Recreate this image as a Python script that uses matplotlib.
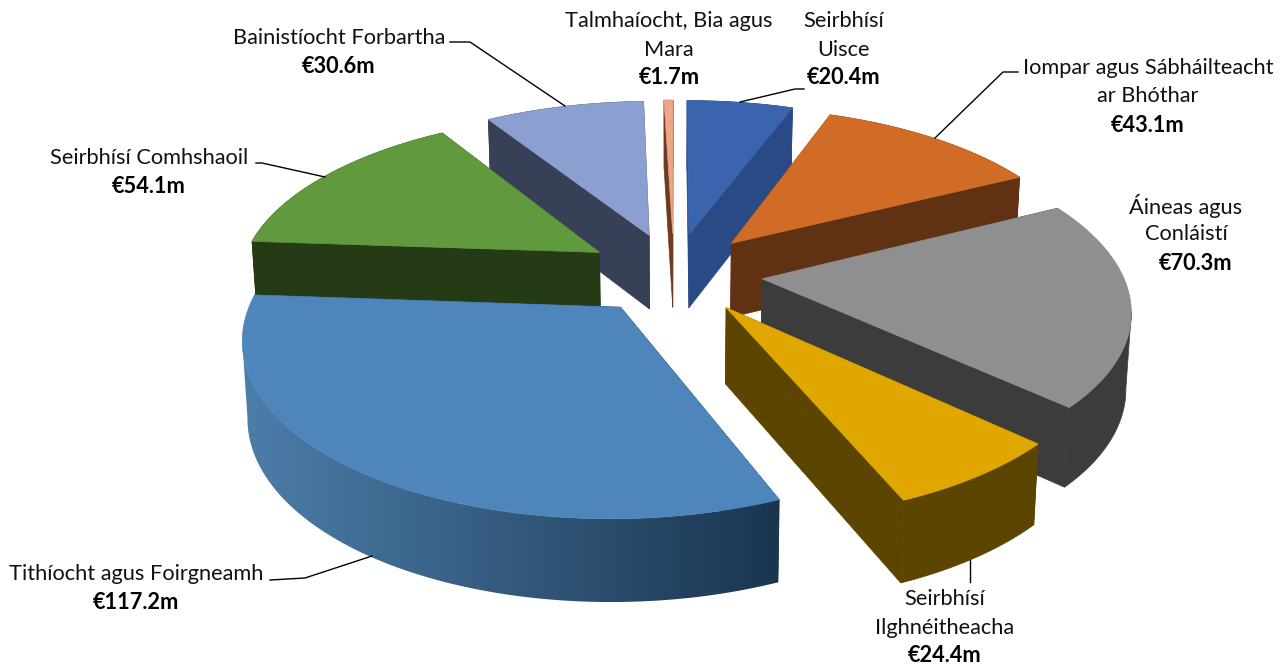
import matplotlib
matplotlib.use('Agg')
import matplotlib.pyplot as plt
from matplotlib.colors import LinearSegmentedColormap
from matplotlib.patches import Polygon
import numpy as np

plt.rcParams['font.family'] = ['Lato', 'DejaVu Sans']

# dados do grafico, sentido horario a partir do topo
nomes = ['Seirbhísí\nUisce', 'Iompar agus Sábháilteacht\nar Bhóthar', 'Áineas agus\nConláistí',
         'Seirbhísí\nIlghnéitheacha', 'Tithíocht agus Foirgneamh', 'Seirbhísí Comhshaoil',
         'Bainistíocht Forbartha', 'Talmhaíocht, Bia agus\nMara']
valores = [20.4, 43.1, 70.3, 24.4, 117.2, 54.1, 30.6, 1.7]

# estilo
cor_topo = ['#3a64ad', '#d06c26', '#8f8f8f', '#dfa700', '#4e86bb', '#619a3e', '#8c9fd1', '#eda687']
cor_lado = ['#2a4a85', '#613114', '#3c3c3c', '#5c4500', '#1b3550', '#253b16', '#384058', '#6e3a20']
pos_texto = [(844, 21), (1148, 68), (1186, 206), (945, 599), (136, 574), (149, 158), (339, 38), (669, 21)]
desvio_valor = [0, 0, 10, 0, 0, 0, 0, 0]
linhas_guia = [[(740, 102), (795, 89), (804, 89)], [(935, 138), (1003, 72), (1018, 72)], None,
               [(970, 560), (970, 582)], [(372, 556), (305, 578), (270, 580)],
               [(325, 177), (262, 163), (256, 163)], [(565, 106), (470, 42), (450, 42)], None]

# projecao em perspectiva
CX, CY = 674, 273
RAIO_X, RAIO_Y = 360, 166
PERSP = 0.158
ALTURA = 75
EXPLODE = 0.246
ESTREITA = 0.012


def projeta(x, y, z):
    s = 1 / (1 + PERSP * y)
    return CX + RAIO_X * x * s * (1 - ESTREITA * z), CY - RAIO_Y * y * s + ALTURA * z * np.sqrt(s)


fig = plt.figure(figsize=(12.88, 6.69), dpi=100)
ax = fig.add_axes([0, 0, 1, 1])
gradiente = LinearSegmentedColormap.from_list('lado', ['#4c7eaa', '#1b3550'])

total = sum(valores)
fatias = []
inicio = 0
for i, v in enumerate(valores):
    fim = inicio + v / total * 2 * np.pi
    fatias.append((i, inicio, fim))
    inicio = fim

z = 1
for i, a0, a1 in sorted(fatias, key=lambda f: -np.cos((f[1] + f[2]) / 2)):
    m = (a0 + a1) / 2
    ox, oy = EXPLODE * np.sin(m), EXPLODE * np.cos(m)
    angs = np.linspace(a0, a1, max(int((a1 - a0) * 60), 3))
    xs = ox + np.sin(angs)
    ys = oy + np.cos(angs)

    # cortes da fatia
    for a in (a0, a1):
        px, py = ox + np.sin(a), oy + np.cos(a)
        tela = [projeta(*p) for p in [(ox, oy, 0), (px, py, 0), (px, py, 1), (ox, oy, 1)]]
        ax.add_patch(Polygon(tela, fc=cor_lado[i], ec=cor_lado[i], lw=0.5, zorder=z))
        z += 1

    # lado curvo, so a parte virada para a frente
    sx = np.array([projeta(x, y, 0)[0] for x, y in zip(xs, ys)])
    lx, ly = xs, ys
    for j in (int(np.argmax(sx)), int(np.argmin(sx))):
        if 0 < j < len(lx) - 1:
            if ly[:j + 1].mean() < ly[j:].mean():
                lx, ly = lx[:j + 1], ly[:j + 1]
            else:
                lx, ly = lx[j:], ly[j:]
            break
    lado = [projeta(x, y, 0) for x, y in zip(lx, ly)] + [projeta(x, y, 1) for x, y in zip(lx[::-1], ly[::-1])]
    if i == 4:
        px = [p[0] for p in lado]
        py = [p[1] for p in lado]
        im = ax.imshow(np.linspace(0, 1, 256)[None, :], extent=(min(px), max(px), max(py), min(py)),
                       aspect='auto', cmap=gradiente, zorder=z)
        im.set_clip_path(Polygon(lado, transform=ax.transData))
    else:
        ax.add_patch(Polygon(lado, fc=cor_lado[i], ec=cor_lado[i], lw=0.5, zorder=z))
    z += 1

    topo = [projeta(ox, oy, 0)] + [projeta(x, y, 0) for x, y in zip(xs, ys)]
    ax.add_patch(Polygon(topo, fc=cor_topo[i], ec=cor_topo[i], lw=0.5, zorder=z))
    z += 1

for nome, v, pos, dv, guia in zip(nomes, valores, pos_texto, desvio_valor, linhas_guia):
    partes = nome.split('\n')
    for k, parte in enumerate(partes):
        ax.text(pos[0], pos[1] + k * 28.5, parte, ha='center', va='center', fontsize=15.7,
                color='#111111', zorder=z)
    ax.text(pos[0] + dv, pos[1] + len(partes) * 28.5, f'€{v}m', ha='center', va='center', fontsize=15.7,
            fontweight='bold', color='#000000', zorder=z)
    if guia:
        ax.plot([p[0] for p in guia], [p[1] for p in guia], color='black', lw=1, zorder=z)

ax.set_xlim(0, 1288)
ax.set_ylim(669, 0)
ax.axis('off')

fig.savefig('out.png', dpi=100)
